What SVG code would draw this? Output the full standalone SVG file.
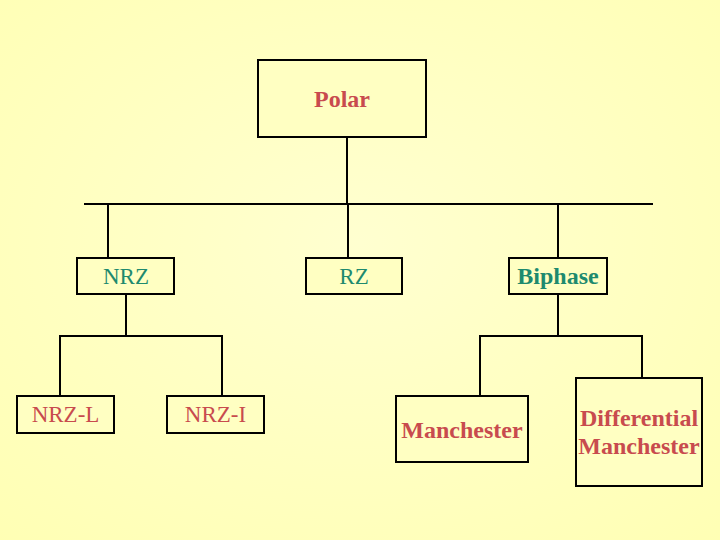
<svg xmlns="http://www.w3.org/2000/svg" width="720" height="540" viewBox="0 0 720 540">
  <defs>
    <radialGradient id="bg" cx="50%" cy="45%" r="75%">
      <stop offset="0" stop-color="#FFFFD0"/>
      <stop offset="1" stop-color="#FFFFB4"/>
    </radialGradient>
  </defs>
  <style>
    .box { fill: #FFFFC2; stroke: #000000; stroke-width: 2; }
    .line { fill: none; stroke: #000000; stroke-width: 2; }
    text { font-family: "Liberation Serif", "Times New Roman", serif; font-size: 23px; text-anchor: middle; }
    .red { fill: #C84B4E; }
    .teal { fill: #1E8A6E; }
    .b { font-weight: bold; font-size: 24px; }
  </style>
  <rect x="0" y="0" width="720" height="540" fill="url(#bg)"/>

  <g id="connectors">
    <line class="line" x1="347" y1="137" x2="347" y2="204"/>
    <line class="line" x1="84" y1="204" x2="653" y2="204"/>
    <line class="line" x1="108" y1="204" x2="108" y2="258"/>
    <line class="line" x1="348" y1="204" x2="348" y2="258"/>
    <line class="line" x1="558" y1="204" x2="558" y2="258"/>
    <line class="line" x1="126" y1="294" x2="126" y2="336"/>
    <polyline class="line" points="60,396 60,336 222,336 222,396"/>
    <line class="line" x1="558" y1="294" x2="558" y2="336"/>
    <polyline class="line" points="480,396 480,336 642,336 642,378"/>
  </g>

  <g id="polar">
    <rect class="box" x="258" y="60" width="168" height="77"/>
    <text class="red b" x="342" y="107">Polar</text>
  </g>
  <g id="nrz">
    <rect class="box" x="77" y="258" width="97" height="36"/>
    <text class="teal" x="126" y="284">NRZ</text>
  </g>
  <g id="rz">
    <rect class="box" x="306" y="258" width="96" height="36"/>
    <text class="teal" x="354" y="284">RZ</text>
  </g>
  <g id="biphase">
    <rect class="box" x="509" y="258" width="98" height="36"/>
    <text class="teal b" x="558" y="284">Biphase</text>
  </g>
  <g id="nrz-l">
    <rect class="box" x="17" y="396" width="97" height="37"/>
    <text class="red" x="65.5" y="422">NRZ-L</text>
  </g>
  <g id="nrz-i">
    <rect class="box" x="167" y="396" width="97" height="37"/>
    <text class="red" x="215.5" y="422">NRZ-I</text>
  </g>
  <g id="manchester">
    <rect class="box" x="396" y="396" width="132" height="66"/>
    <text class="red b" x="462" y="438">Manchester</text>
  </g>
  <g id="differential-manchester">
    <rect class="box" x="576" y="378" width="126" height="108"/>
    <text class="red b" x="639" y="426">Differential</text>
    <text class="red b" x="639" y="454">Manchester</text>
  </g>
</svg>
